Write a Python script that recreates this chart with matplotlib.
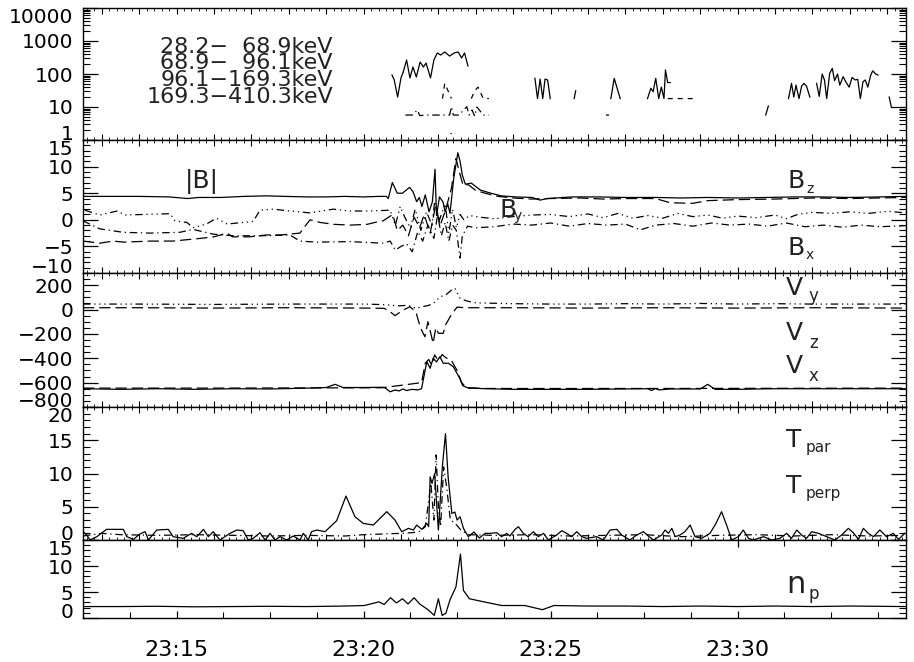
import numpy as np
import matplotlib
matplotlib.use("Agg")
import matplotlib.pyplot as plt
from matplotlib.ticker import MultipleLocator, LogLocator, FuncFormatter, NullFormatter

nan = np.nan
T0, T1 = 12.5, 34.5   # time axis, minutes after 23:00

# ---- energetic particle channels (nan = no data); \u2007 is a digit-wide space
ch_labels = ["28.2\u2212\u200768.9keV", "68.9\u2212\u200796.1keV", "96.1\u2212169.3keV", "169.3\u2212410.3keV"]
t_ch1 = [20.76, 20.82, 20.91, 21.00, 21.06, 21.15, 21.24, 21.32, 21.41, 21.51, 21.60, 21.67,
         21.79, 21.88, 21.97, 22.06, 22.17, 22.30, 22.42, 22.53, 22.62, 22.70, 22.79, nan,
         24.58, 24.65, 24.72, 24.79, 24.85, 24.92, 24.99, nan,
         25.63, 25.67, nan,
         26.61, 26.70, 26.86, nan,
         27.59, 27.68, 27.74, 27.81, 27.89, 27.96, 28.03, 28.07, 28.13, 28.20, nan,
         30.75, 30.82, nan,
         31.36, 31.44, 31.50, 31.56, 31.64, 31.71, 31.77, 31.84, 31.93, nan,
         32.11, 32.18, 32.26, 32.32, 32.38, 32.46, 32.53, 32.59, 32.67, 32.73,
         32.82, 32.89, 32.98, 33.06, 33.14, 33.21, 33.28, 33.35, 33.41, 33.48,
         33.55, 33.61, 33.69, 33.75, nan,
         34.05, 34.11]
ch1 = [93, 66, 20, 76, 115, 265, 76, 163, 81, 230, 163, 215,
       76, 265, 433, 376, 464, 350, 433, 464, 305, 433, 175, nan,
       74, 18, 70, 18, 70, 66, 18, nan,
       18, 31, nan,
       18, 74, 18, nan,
       18, 37, 29, 74, 18, 40, 18, 132, 55, 55, nan,
       5.7, 10.7, nan,
       18, 52, 20, 46, 18, 43, 52, 43, 20, nan,
       52, 21, 100, 66, 18, 105, 148, 63, 100, 46,
       83, 58, 40, 79, 66, 69, 18, 58, 66, 40,
       87, 125, 100, 93, nan,
       20, 9.8]
t_ch2 = [22.11, 22.17, 22.35, nan, 22.88, 22.97, 23.06, 23.20, 23.35, nan, 28.13, 28.50, 28.83]
ch2 = [18, 52, 18, nan, 18, 31, 40, 18, 18, nan, 18, 18, 18]
t_ch3 = [21.12, 21.30, 21.44, 21.50, 21.71, 22.03, 22.30, 22.35, 22.40, 22.55, 22.76, 22.82,
         22.90, 22.97, 23.03, 23.20, 23.35, nan, 26.48, 26.56]
ch3 = [5.7, 5.7, 8.1, 5.5, 5.7, 5.7, 5.7, 10.2, 5.7, 5.7, 10.2, 5.7,
       8.1, 5.3, 10.0, 5.7, 5.7, nan, 5.7, 5.7]
t_ch4 = [22.30, 22.40]
ch4 = [1.6, 1.6]

# ---- magnetic field (nT)
t_bmag = [12.5, 13.2, 14.0, 14.8, 15.3, 15.6, 16.2, 16.8, 17.4, 17.9,
          18.5, 19.0, 19.5, 20.0, 20.4, 20.61, 20.66, 20.77, 20.90, 21.04,
          21.23, 21.32, 21.42, 21.49, 21.56, 21.65, 21.75, 21.84, 21.91, 21.95,
          22.03, 22.12, 22.18, 22.25, 22.31, 22.41, 22.52, 22.58, 22.64, 22.72,
          22.88, 23.12, 23.40, 23.68, 24.06, 24.5, 24.72, 24.91, 25.57, 26.3,
          27.0, 27.8, 28.5, 29.2, 30.0, 30.8, 31.5, 32.2, 33.0, 33.8, 34.5]
bmag = [4.4, 4.4, 4.4, 4.3, 4.0, 4.2, 4.2, 4.4, 4.5, 4.4,
        4.3, 4.3, 4.4, 4.3, 4.4, 4.4, 4.0, 7.0, 5.0, 5.0,
        6.1, 5.3, 3.4, 4.2, 2.5, 4.7, 1.5, 3.4, 9.5, 0.8,
        4.3, 3.4, 1.5, 3.0, 1.2, 7.8, 12.6, 11.0, 8.4, 6.7,
        6.9, 5.6, 5.0, 4.5, 4.3, 4.2, 3.7, 4.0, 4.3, 4.3,
        4.2, 4.2, 4.1, 4.2, 4.1, 4.2, 4.3, 4.3, 4.2, 4.3, 4.4]
t_bz = [12.5, 12.95, 13.3, 13.6, 14.3, 14.9, 15.63, 16.0, 16.35, 16.5,
        16.95, 17.4, 17.8, 18.3, 18.38, 18.57, 18.84, 19.2, 19.64, 20.1,
        20.3, 20.52, 20.78, 20.9, 21.05, 21.2, 21.35, 21.5, 21.62, 21.78,
        21.92, 22.05, 22.2, 22.35, 22.47, 22.56, 22.66, 22.8, 23.0, 23.3,
        23.6, 24.0, 24.5, 25.0, 25.8, 26.4, 27.0, 27.8, 28.2, 28.8,
        29.2, 30.0, 31.0, 32.0, 33.0, 34.5]
bz = [-4.0, -4.4, -4.0, -4.2, -4.0, -4.0, -3.5, -3.2, -2.5, -3.2,
      -3.2, -2.85, -2.85, -2.5, -1.7, 0.0, -0.5, -0.85, -1.0, -0.85,
      -0.5, -0.2, 1.0, -2.0, -1.0, -3.0, 0.5, -1.5, 1.0, -2.5,
      2.5, -1.0, 2.0, 6.0, 11.5, 9.0, 6.5, 6.6, 5.5, 4.9,
      4.4, 4.1, 3.9, 4.0, 4.1, 3.9, 4.0, 4.0, 3.2, 3.1,
      3.6, 3.8, 3.9, 4.1, 4.0, 4.2]
t_by = [12.55, 12.95, 13.41, 13.62, 14.1, 14.83, 14.96, 15.28, 15.44, 15.8,
        16.07, 16.35, 17.05, 17.23, 17.58, 18.03, 18.57, 19.19, 19.64, 20.09,
        20.71, 20.85, 20.98, 21.1, 21.25, 21.38, 21.53, 21.68, 21.83, 21.9,
        22.03, 22.18, 22.28, 22.38, 22.48, 22.58, 22.68, 22.83, 23.1, 23.5,
        24.0, 24.5, 25.0, 25.5, 26.0, 26.4, 26.8, 27.2, 27.6, 28.0,
        28.4, 28.8, 29.2, 29.6, 30.0, 30.5, 31.0, 31.3, 31.6, 32.0,
        32.5, 33.0, 33.5, 34.0, 34.5]
by = [1.8, 0.9, 1.65, 0.9, 1.0, 1.15, -0.2, -0.5, -1.5, -0.8,
      0.3, -0.8, -0.3, 1.8, 2.0, 1.65, 1.3, 2.0, 1.65, 1.65,
      1.8, -1.0, 2.5, 0.5, -1.5, 2.0, -2.0, 1.5, -1.0, 3.5,
      0.0, 3.0, -2.5, 2.0, -1.5, 1.0, 0.0, 0.8, 0.5, 0.2,
      0.6, 0.9, 1.0, 0.6, 1.1, 0.4, 1.2, 0.3, 0.8, 0.3,
      1.2, 0.6, 0.9, 0.3, 0.7, 0.4, 0.9, 0.2, 1.0, 1.4,
      1.2, 1.5, 1.2, 1.6, 1.3]
t_bx = [12.5, 12.95, 13.57, 14.29, 15.09, 15.44, 15.98, 16.51, 17.31, 18.03,
        18.3, 18.75, 19.64, 20.52, 20.71, 20.85, 21.0, 21.15, 21.3, 21.45,
        21.58, 21.72, 21.88, 21.98, 22.08, 22.18, 22.28, 22.38, 22.48, 22.58,
        22.64, 22.78, 23.0, 23.5, 24.0, 24.5, 25.0, 25.5, 26.0, 26.5,
        27.0, 27.4, 27.8, 28.3, 28.8, 29.3, 29.8, 30.3, 30.8, 31.3,
        31.8, 32.3, 32.8, 33.3, 33.8, 34.5]
bx = [-0.2, -1.7, -2.35, -2.5, -2.35, -1.8, -2.7, -3.0, -3.0, -2.85,
      -4.0, -4.2, -4.1, -4.4, -4.0, -5.7, -5.0, -4.5, -6.0, -2.2,
      -4.0, -1.0, -3.5, 1.0, -3.0, -0.5, -4.0, -1.0, -2.0, -7.2,
      -3.0, -1.2, -1.5, -1.3, -0.8, -1.0, -0.6, -1.2, -0.7, -1.0,
      -0.8, -1.9, -1.0, -0.7, -1.2, -0.6, -1.0, -0.8, -1.2, -0.6,
      -1.3, -1.0, -1.4, -1.0, -1.3, -1.1]

# ---- bulk velocity (km/s)
t_vx = [12.5, 13.5, 14.5, 15.5, 16.5, 17.5, 18.5, 19.0, 19.24, 19.45,
        20.0, 20.55, 20.71, 20.85, 20.95, 21.05, 21.15, 21.3, 21.45, 21.55,
        21.69, 21.78, 21.86, 21.95, 22.04, 22.13, 22.27, 22.40, 22.58, 22.65,
        22.8, 23.3, 24.0, 25.0, 26.0, 27.6, 27.7, 27.8, 27.9, 28.2,
        29.0, 29.2, 29.4, 30.0, 31.0, 32.0, 33.0, 34.5]
vx = [-650, -655, -650, -655, -650, -652, -645, -640, -614, -640,
      -640, -638, -675, -660, -668, -652, -665, -655, -660, -650,
      -428, -482, -400, -430, -387, -441, -441, -470, -570, -625,
      -645, -650, -655, -655, -655, -650, -665, -648, -660, -652,
      -652, -614, -655, -655, -650, -650, -650, -650]
t_vx2 = [12.5, 16.0, 20.5, 21.55, 21.65, 21.74, 21.82, 21.9, 22.0, 22.1,
         22.2, 22.35, 22.5, 22.62, 22.75, 23.2, 28.0, 34.5]
vx2 = [-645, -645, -642, -600, -440, -410, -455, -372, -420, -370,
       -395, -420, -500, -600, -640, -648, -648, -645]
t_vy = [12.5, 14.0, 16.0, 18.0, 20.0, 20.6, 20.9, 21.2, 21.4, 21.6,
        21.75, 21.9, 22.05, 22.2, 22.35, 22.44, 22.58, 22.76, 23.0, 24.0,
        25.0, 26.0, 27.0, 28.0, 29.0, 30.0, 31.0, 32.0, 33.0, 34.5]
vy = [45, 45, 42, 45, 45, 40, 30, 35, 10, 25,
      35, 60, 105, 120, 160, 175, 92, 70, 55, 48,
      45, 45, 48, 45, 50, 45, 48, 45, 45, 45]
t_vz = [12.5, 14.0, 16.0, 18.0, 20.0, 20.55, 20.71, 20.84, 21.06, 21.24,
        21.4, 21.52, 21.64, 21.72, 21.8, 21.86, 21.93, 22.0, 22.13, 22.2,
        22.24, 22.35, 22.5, 22.7, 24.0, 26.0, 28.0, 30.0, 32.0, 34.5]
vz = [15, 15, 12, 15, 12, 10, -18, -50, -4, 23,
      -20, -150, -223, -100, -200, -277, -150, -195, -195, -120,
      -100, -40, 20, 15, 15, 12, 15, 12, 15, 12]

# ---- temperatures
t_tpar = [12.50, 12.60, 12.69, 12.87, 13.13, 13.58, 13.67, 13.85, 14.02, 14.16,
          14.25, 14.47, 14.78, 14.91, 15.18, 15.40, 15.54, 15.72, 15.85, 15.98,
          16.16, 16.43, 16.61, 16.78, 16.92, 17.05, 17.23, 17.37, 17.50, 17.63,
          17.77, 17.94, 18.12, 18.30, 18.39, 18.52, 18.61, 18.75, 18.97, 19.28,
          19.53, 19.77, 19.99, 20.26, 20.62, 20.84, 21.02, 21.20, 21.33, 21.42,
          21.56, 21.69, 21.74, 21.78, 21.83, 21.90, 22.00, 22.11, 22.19, 22.26,
          22.36, 22.44, 22.50, 22.58, 22.67, 22.80, 22.95, 23.10, 23.25, 23.38,
          23.56, 23.69, 23.83, 23.91, 24.05, 24.14, 24.27, 24.40, 24.54, 24.67,
          24.81, 24.94, 25.16, 25.30, 25.43, 25.56, 25.70, 25.83, 25.96, 26.23,
          26.41, 26.59, 26.77, 26.90, 27.12, 27.30, 27.48, 27.61, 27.75, 27.97,
          28.06, 28.15, 28.24, 28.33, 28.46, 28.59, 28.73, 28.86, 29.04, 29.26,
          29.42, 29.57, 29.72, 29.84, 30.02, 30.15, 30.29, 30.42, 30.69, 30.91,
          31.13, 31.31, 31.44, 31.58, 31.71, 31.84, 31.98, 32.16, 32.38, 32.60,
          32.78, 32.96, 33.09, 33.23, 33.36, 33.49, 33.63, 33.80, 33.98, 34.16,
          34.30, 34.47]
tpar = [1.25, 0.75, 0.0, 0.5, 1.6, 1.6, 0.5, 0.1, 0.9, 1.25,
        0.0, 1.5, 1.6, 0.5, 0.25, 1.0, 0.5, 1.6, 0.5, 1.25,
        0.0, 1.0, 1.5, 1.4, 0.0, 0.25, 1.1, 0.0, 1.0, 0.0,
        0.5, 0.0, 0.6, 0.0, 1.0, 0.0, 1.25, 1.5, 1.25, 2.9,
        6.6, 3.5, 2.5, 2.25, 4.26, 3.0, 1.25, 1.75, 1.5, 2.25,
        1.6, 2.5, 2.0, 9.5, 8.5, 10.0, 1.5, 11.3, 16.0, 9.5,
        4.0, 4.2, 3.0, 3.5, 1.75, 0.5, 1.2, 0.3, 1.0, 1.0,
        1.1, 0.5, 1.0, 0.6, 1.6, 2.0, 1.0, 0.5, 1.25, 0.5,
        1.0, 0.0, 0.75, 1.4, 1.0, 0.5, 1.25, 0.5, 0.25, 0.5,
        0.0, 1.5, 1.6, 0.75, 0.0, 0.75, 1.25, 0.6, 0.0, 0.75,
        1.5, 1.0, 1.75, 0.5, 0.75, 1.25, 2.25, 0.5, 0.25, 1.0,
        2.5, 4.26, 2.0, 0.0, 0.5, 1.5, 0.25, 0.0, 0.5, 0.0,
        0.25, 1.0, 0.25, 1.5, 0.75, 0.25, 1.25, 1.0, 0.5, 0.0,
        0.75, 1.75, 1.1, 0.1, 1.75, 1.0, 0.5, 1.5, 0.5, 1.0,
        0.1, 1.0]
t_tperp = [12.5, 13.0, 13.5, 14.5, 15.5, 16.5, 17.5, 18.5, 19.5, 20.0,
           20.5, 21.0, 21.3, 21.5, 21.65, 21.8, 21.88, 21.94, 22.0, 22.06,
           22.14, 22.22, 22.32, 22.45, 22.6, 22.8, 23.5, 24.5, 25.5, 26.5,
           27.5, 28.5, 29.5, 30.5, 31.5, 32.5, 33.5, 34.5]
tperp = [0.6, 1.0, 0.8, 0.7, 0.8, 0.7, 0.6, 0.7, 0.6, 0.8,
         0.9, 1.0, 1.1, 1.3, 2.0, 8.5, 3.0, 12.8, 5.0, 2.0,
         11.0, 8.0, 3.0, 2.5, 1.5, 0.8, 0.7, 0.8, 0.6, 0.7,
         0.8, 0.5, 0.7, 0.8, 0.6, 0.8, 0.6, 0.7]

# ---- proton density
t_np = [12.5, 13.5, 14.5, 15.5, 16.5, 17.5, 18.5, 19.5, 20.02, 20.41,
        20.55, 20.72, 20.88, 21.04, 21.19, 21.35, 21.50, 21.74, 21.89, 22.0,
        22.1, 22.2, 22.31, 22.47, 22.59, 22.67, 22.83, 23.22, 23.69, 24.31,
        24.78, 25.09, 26.0, 27.0, 28.0, 29.0, 30.0, 31.0, 32.0, 33.0, 34.5]
n_p = [2.2, 2.2, 2.25, 2.15, 2.2, 2.25, 2.2, 2.3, 2.4, 3.1,
       2.6, 3.9, 2.9, 3.7, 2.7, 3.9, 2.7, 1.5, 0.5, 3.7,
       0.5, 0.9, 3.5, 6.0, 12.3, 5.3, 3.7, 3.1, 2.4, 2.4,
       1.6, 2.4, 2.3, 2.3, 2.2, 2.3, 2.2, 2.3, 2.2, 2.3, 2.2]

# IDL-like line styles
SOLID = '-'
DASH = (0, (4, 4))
LONGDASH = (0, (9, 4))
DASHDOT = (0, (6, 3, 1, 3))
DASH3DOT = (0, (6, 3, 1, 3, 1, 3, 1, 3))
DOT = (0, (1, 2))

plt.rcParams['font.family'] = ['DejaVu Sans']
W_PX, H_PX = 914, 662
fig = plt.figure(figsize=(W_PX / 100, H_PX / 100), dpi=100)
fig.patch.set_facecolor('white')


def panel(top, bot):
    # panel edges given in image pixels
    return fig.add_axes([83 / W_PX, 1 - bot / H_PX, 823 / W_PX, (bot - top) / H_PX])


def style(ax, bottom=False):
    ax.set_xlim(T0, T1)
    for s in ax.spines.values():
        s.set_linewidth(1.0)
    ax.tick_params(which='both', direction='in', top=True, right=True, colors='black')
    ax.tick_params(axis='y', which='major', length=11, width=0.9, labelsize=14.5, pad=7)
    ax.tick_params(axis='y', which='minor', length=5, width=0.8)
    if bottom:
        ax.xaxis.set_major_locator(MultipleLocator(5))
        ax.xaxis.set_minor_locator(MultipleLocator(1.25))
        ax.xaxis.set_major_formatter(FuncFormatter(lambda v, p: f"23:{int(round(v)):02d}"))
        ax.tick_params(axis='x', which='major', length=5, width=0.9, labelsize=16, pad=16)
        ax.tick_params(axis='x', which='minor', length=4, width=0.8)
    else:
        ax.xaxis.set_major_locator(MultipleLocator(1))
        ax.xaxis.set_minor_locator(MultipleLocator(0.2))
        ax.xaxis.set_major_formatter(NullFormatter())
        ax.tick_params(axis='x', which='major', length=4, width=0.8)
        ax.tick_params(axis='x', which='minor', length=2, width=0.6)


def lin_y(ax, lo, hi, major, minor):
    ax.set_ylim(lo, hi)
    ax.yaxis.set_major_locator(MultipleLocator(major))
    ax.yaxis.set_minor_locator(MultipleLocator(minor))


LW = 0.9
K = 'black'

# panel 1: particle flux
ax1 = panel(8, 140)
ax1.plot(t_ch1, ch1, color=K, lw=LW, linestyle=SOLID)
ax1.plot(t_ch2, ch2, color=K, lw=LW, linestyle=DASH)
ax1.plot(t_ch3, ch3, color=K, lw=LW, linestyle=DASHDOT)
ax1.plot(t_ch4, ch4, color=K, lw=LW, linestyle=DOT)
ax1.set_yscale('log')
ax1.set_ylim(1, 1e4)
ax1.yaxis.set_major_locator(LogLocator(base=10, numticks=10))
ax1.yaxis.set_minor_locator(LogLocator(base=10, subs=np.arange(2, 10), numticks=20))
ax1.yaxis.set_major_formatter(FuncFormatter(lambda v, p: f"{v:g}"))
ax1.yaxis.set_minor_formatter(NullFormatter())
style(ax1)

# panel 2: magnetic field
ax2 = panel(140, 273)
ax2.plot(t_bmag, bmag, color=K, lw=LW, linestyle=SOLID)
ax2.plot(t_bz, bz, color=K, lw=LW, linestyle=LONGDASH)
ax2.plot(t_by, by, color=K, lw=LW, linestyle=DASH3DOT)
ax2.plot(t_bx, bx, color=K, lw=LW, linestyle=DASHDOT)
lin_y(ax2, -10, 15, 5, 1)
style(ax2)

# panel 3: velocity
ax3 = panel(273, 407)
ax3.plot(t_vx, vx, color=K, lw=LW, linestyle=SOLID)
ax3.plot(t_vx2, vx2, color=K, lw=LW, linestyle=LONGDASH)
ax3.plot(t_vy, vy, color=K, lw=LW, linestyle=DASH3DOT)
ax3.plot(t_vz, vz, color=K, lw=LW, linestyle=LONGDASH)
lin_y(ax3, -800, 300, 200, 50)
style(ax3)

# panel 4: temperatures
ax4 = panel(407, 540)
ax4.plot(t_tpar, tpar, color=K, lw=LW, linestyle=SOLID)
ax4.plot(t_tperp, tperp, color=K, lw=LW, linestyle=DASHDOT)
lin_y(ax4, 0, 20, 5, 1)
style(ax4)

# panel 5: density
ax5 = panel(540, 618)
ax5.plot(t_np, n_p, color=K, lw=LW, linestyle=SOLID)
lin_y(ax5, 0, 15, 5, 1)
style(ax5, bottom=True)

# like IDL, keep the labels at the panel edges inside the panel
fig.canvas.draw()
for ax in [ax1, ax2, ax3, ax4, ax5]:
    lo, hi = ax.get_ylim()
    for tk in ax.yaxis.get_major_ticks():
        loc = tk.get_loc()
        if np.isclose(loc, hi):
            tk.label1.set_verticalalignment('top')
        elif np.isclose(loc, lo):
            tk.label1.set_verticalalignment('baseline')


def ptext(x, y, s, size, ha='left'):
    # x, baseline y in image pixels
    fig.text(x / W_PX, 1 - y / H_PX, s, fontsize=size, ha=ha, va='baseline', color='#222222')


# channel labels
for lab, yb in zip(ch_labels, [53, 69, 86, 103]):
    ptext(333, yb, lab, 16, ha='right')

ptext(185, 188, "|B|", 18)
ptext(787, 188, "B", 18); ptext(806, 193, "z", 10)
ptext(499, 217, "B", 18); ptext(514, 220, "y", 10)
ptext(787, 255, "B", 18); ptext(806, 259, "x", 10)
ptext(786, 295, "V", 18); ptext(808, 301, "y", 12)
ptext(786, 340, "V", 18); ptext(809, 348, "z", 12)
ptext(786, 373, "V", 18); ptext(809, 381, "x", 12)
ptext(786, 447, "T", 18); ptext(806, 452, "par", 11)
ptext(786, 493, "T", 18); ptext(806, 498, "perp", 11)
ptext(786, 593, "n", 22); ptext(808, 599, "p", 12)

fig.savefig("out.png", dpi=100, facecolor='white')
